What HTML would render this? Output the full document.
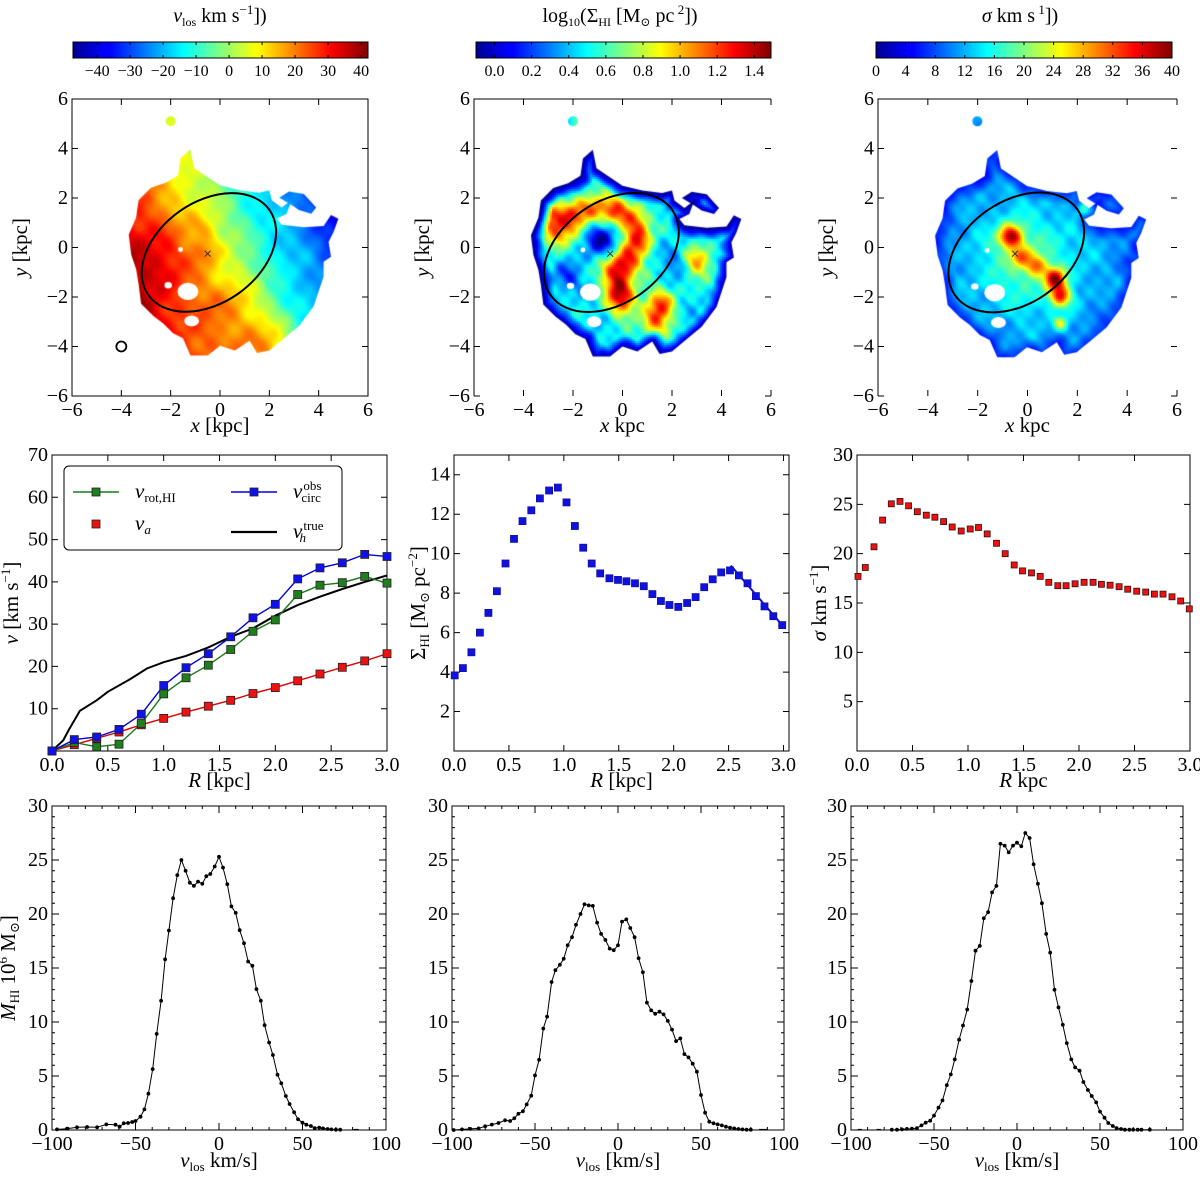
<!DOCTYPE html>
<html><head><meta charset="utf-8"><title>HI maps and profiles</title>
<style>
body{margin:0;background:#fff}
#root{position:relative;width:1200px;height:1177px;overflow:hidden;background:#fff}
canvas{position:absolute}
svg{position:absolute;left:0;top:0}
text{font-family:"Liberation Serif","DejaVu Serif",serif;fill:#000}
</style></head>
<body>
<div id="root">
<canvas id="map1" width="296" height="297" style="left:72px;top:99px"></canvas>
<canvas id="map2" width="297" height="297" style="left:474px;top:99px"></canvas>
<canvas id="map3" width="298" height="297" style="left:878px;top:99px"></canvas>
<svg id="svg" width="1200" height="1177">
<defs>
<linearGradient id="jet" x1="0" x2="1" y1="0" y2="0">
<stop offset="0" stop-color="#00008f"/><stop offset="0.11" stop-color="#0000ff"/><stop offset="0.125" stop-color="#0000ff"/>
<stop offset="0.375" stop-color="#00ffff"/><stop offset="0.5" stop-color="#80ff80"/><stop offset="0.625" stop-color="#ffff00"/>
<stop offset="0.875" stop-color="#ff0000"/><stop offset="1" stop-color="#800000"/>
</linearGradient>
</defs>
</svg>
</div>
<script>
// ---------- rotation curve data (row 2, left) ----------
const rotR = [0,0.2,0.4,0.6,0.8,1.0,1.2,1.4,1.6,1.8,2.0,2.2,2.4,2.6,2.8,3.0];
const vRotHI = [0,2,1,1.6,6.5,13.5,17.3,20.3,24,28.3,31,37,39.2,39.8,41.3,39.7];
const vCircObs = [0,2.7,3.3,5.1,8.7,15.5,19.7,23,27,31.5,34.7,40.7,43.3,44.5,46.5,46];
const vA = [0,1.5,3,4.5,6.2,7.7,9.2,10.6,12,13.6,15,16.6,18.2,19.8,21.3,23];
const trueR = [0,0.1,0.15,0.25,0.4,0.5,0.7,0.85,1.0,1.2,1.4,1.6,1.8,2.0,2.2,2.4,2.6,2.8,3.0];
const vTrue = [0,2.5,5,9.5,12,14,17,19.5,21,22.5,24.5,27,29,32,34.5,36.5,38.3,40,41.5];
// ---------- surface density profile (row 2, middle) ----------
const sigR = [0.006,0.081,0.158,0.236,0.313,0.391,0.469,0.546,0.624,0.704,0.782,0.866,0.946,1.024,1.101,1.176,1.254,1.331,1.415,1.493,1.570,1.648,1.728,1.806,1.884,1.961,2.042,2.122,2.200,2.278,2.355,2.433,2.513,2.594,2.672,2.749,2.827,2.907,2.988];
const sigHI = [3.83,4.2,5.0,6.0,7.0,8.1,9.5,10.75,11.65,12.2,12.8,13.2,13.35,12.6,11.4,10.3,9.5,9.0,8.75,8.67,8.6,8.5,8.35,7.95,7.6,7.4,7.3,7.5,7.8,8.3,8.7,9.05,9.15,8.9,8.5,7.85,7.33,6.83,6.38];
const fitR = [2.52,3.0];
const fitS = [9.4,6.3];
// ---------- velocity dispersion profile (row 2, right) ----------
const dispR = [0.009,0.075,0.153,0.231,0.309,0.387,0.465,0.543,0.624,0.702,0.780,0.858,0.939,1.020,1.095,1.173,1.257,1.335,1.416,1.491,1.572,1.650,1.728,1.809,1.884,1.965,2.046,2.127,2.202,2.280,2.361,2.439,2.520,2.601,2.679,2.757,2.838,2.916,2.994];
const dispS = [17.7,18.6,20.7,23.4,25.05,25.3,24.85,24.25,23.9,23.7,23.25,22.7,22.3,22.5,22.65,22.0,21.05,20.0,18.85,18.25,18.05,17.7,17.1,16.75,16.75,16.95,17.1,17.1,16.9,16.8,16.65,16.4,16.2,16.1,15.9,15.9,15.63,15.2,14.4];
// ---------- HI mass spectra (row 3) ----------
const specV1 = [-97,-91,-85,-79,-73,-67.5,-62,-59.5,-57,-54.5,-52,-50,-47,-44.7,-42.3,-39.7,-37.3,-34.7,-32.3,-30,-27.5,-25,-22.5,-20,-17.5,-15,-12.6,-10,-7.6,-5.2,-2.6,0,2.4,5,7.4,10,12.4,15,17.4,20,22.4,25,27.3,30,32.3,35,37.3,40,42.3,45,47.3,50,52.3,55,57.3,60,62.3,65,67.3,70,72.6];
const specM1 = [0.06,0.12,0.25,0.28,0.25,0.52,0.49,0.31,0.62,0.65,0.74,0.83,1.23,1.91,3.36,5.64,8.9,11.96,15.8,18.47,21.46,23.6,25.0,24.0,22.9,22.6,23.0,22.8,23.5,23.7,24.4,25.3,24.3,22.76,20.7,20.1,18.5,17.3,15.6,15.2,13.05,11.96,9.7,8.1,6.94,5.12,4.32,3.15,2.41,1.64,0.99,0.68,0.49,0.37,0.18,0.22,0.15,0.09,0.06,0.03,0.03];
const tailV1 = [80.6,83.6];
const tailM1 = [0.03,0.03];
const specV2 = [-99,-94,-89,-84,-80,-76,-72,-68,-65,-62.5,-60,-57.3,-55,-52.3,-50,-47.5,-45,-42.7,-40,-37.7,-35,-32.7,-30.3,-27.7,-25.3,-22.6,-20.2,-17.6,-15.2,-12.6,-10.2,-7.6,-5,-2.6,0,2.4,5,7.4,10,12.4,15,17.4,20,22.4,25,27.5,30,32.5,35,37.5,40,42.5,45,47.5,50,52.5,55,57.5,60,62.5,65,67.5,70,72.5,75,77.5,80];
const specM2 = [0,0.06,0.1,0.15,0.34,0.5,0.65,0.9,0.83,1.08,1.5,1.73,2.37,3.18,5.06,6.5,9.4,10.5,13.7,14.8,15.3,15.85,17.1,17.85,19.0,20.0,20.9,20.8,20.75,19.2,18.16,17.6,16.8,16.65,17.1,19.3,19.5,18.7,17.85,15.9,14.6,11.8,11.07,10.76,10.95,10.7,10.1,9.3,8.23,8.48,7.03,6.72,6.14,5.4,3.24,1.6,0.77,0.62,0.52,0.43,0.31,0.22,0.15,0.09,0.06,0.03,0.03];
const tailV2 = [85,90];
const tailM2 = [0.03,0.03];
const specV3 = [-75.4,-72.3,-69.3,-66.3,-63.3,-60.3,-57.5,-55,-52.3,-50,-47.3,-44.9,-42.3,-39.9,-37.5,-34.9,-32.5,-30,-27.5,-25,-22.4,-20,-17.4,-15,-12.4,-10,-7.4,-5,-2.4,0,2.6,5,7.6,10,12.6,15,17.6,20,22.6,25,27.6,30,32.7,35,37.7,40,42.7,45,47.7,50,52.7,55,57.7,60,62.7,65,67.7,70,72.7,75,80];
const specM3 = [0.03,0.03,0.06,0.1,0.12,0.18,0.43,0.68,0.86,1.33,2.07,2.74,4.16,5.15,6.54,8.36,9.68,11.16,13.8,16.6,17.05,19.6,20.17,22.0,22.6,26.5,26.33,25.7,26.33,26.6,26.27,27.5,27.04,24.6,22.8,21.0,18.16,16.43,12.98,11.35,9.74,8.05,6.54,5.8,5.49,4.44,3.7,3.15,2.56,1.7,1.14,0.65,0.37,0.18,0.09,0.03,0.03,0.03,0.03,0.03,0.03];
const tailV3 = [-96,-93.5,-84.5,-82];
const tailM3 = [0.03,0.03,0.03,0.03];

const NS='http://www.w3.org/2000/svg';
const svg=document.getElementById('svg');
function mk(tag,attrs,parent){const e=document.createElementNS(NS,tag);for(const k in attrs)e.setAttribute(k,attrs[k]);(parent||svg).appendChild(e);return e;}
function txt(x,y,html,size,anchor,parent){const e=mk('text',{x:x,y:y,'font-size':size,'text-anchor':anchor||'middle'},parent);e.innerHTML=html;return e;}
function fmt(v,d){const s=v.toFixed(d);return s.replace('-','\u2212');}

function makeAxes(name,p){
  const g=mk('g',{});
  
  
  p.sx=v=>p.x0+(v-p.xmin)/(p.xmax-p.xmin)*(p.x1-p.x0);
  p.sy=v=>p.y1-(v-p.ymin)/(p.ymax-p.ymin)*(p.y1-p.y0);
  const frame=mk('path',{d:p.frame||`M${p.x0},${p.y0}H${p.x1}V${p.y1}H${p.x0}Z`,fill:'none',stroke:'#000','stroke-width':1},g);
  
  
  const L=p.tickLen||6;
  p.xticks.forEach((v,i)=>{
    const X=p.sx(v);
    const t=mk('path',{d:`M${X},${p.y1}v${-L}M${X},${p.y0}v${L}`,stroke:'#000','stroke-width':1},g);
    
    
    if(p.xlabels[i]!==''){
      const l=txt(X,p.y1+p.xlabOff,p.xlabels[i],p.tickFont,'middle',g);
      
      
    }
  });
  p.yticks.forEach((v,i)=>{
    const Y=p.sy(v);
    const t=mk('path',{d:`M${p.x0},${Y}h${L}M${p.x1},${Y}h${-L}`,stroke:'#000','stroke-width':1},g);
    
    
    if(p.ylabels[i]!==''){
      const l=txt(p.x0-4,Y+6,p.ylabels[i],p.tickFont,'end',g);
      
      
    }
  });
  if(p.minorY){p.minorY.forEach(v=>{const Y=p.sy(v);mk('path',{d:`M${p.x0},${Y}h3M${p.x1},${Y}h-3`,stroke:'#000','stroke-width':1},g);});}
  if(p.minorX){p.minorX.forEach(v=>{const X=p.sx(v);mk('path',{d:`M${X},${p.y1}v-3M${X},${p.y0}v3`,stroke:'#000','stroke-width':1},g);});}
  if(p.xtitle){const t=txt((p.x0+p.x1)/2,p.xtitleY,p.xtitle,21,'middle',g);
    
    }
  if(p.ytitle){const t=txt(0,0,p.ytitle,21,'middle',g);t.setAttribute('transform',`translate(${p.ytitleX},${(p.y0+p.y1)/2}) rotate(-90)`);
    
    }
  return p;
}
function line(p,xs,ys,color,w,name){
  const d=xs.map((x,i)=>(i?'L':'M')+p.sx(x).toFixed(1)+','+p.sy(ys[i]).toFixed(1)).join('');
  const e=mk('path',{d:d,fill:'none',stroke:color,'stroke-width':w});
  
  
  return e;
}
function squares(p,xs,ys,fill,edge,size,name){
  const g=mk('g',{});
  
  
  xs.forEach((x,i)=>{
    const r=mk('rect',{x:(p.sx(x)-size/2).toFixed(1),y:(p.sy(ys[i])-size/2).toFixed(1),width:size,height:size,fill:fill,stroke:edge,'stroke-width':0.8},g);
    
    
  });
}
function dots(p,xs,ys,name){
  const g=mk('g',{});
  
  
  xs.forEach((x,i)=>{
    const c=mk('circle',{cx:p.sx(x).toFixed(1),cy:p.sy(ys[i]).toFixed(1),r:1.9,fill:'#000'},g);
    
    
  });
}

// ---------- Maps ----------
function jet(t){t=Math.max(0,Math.min(1,t));
  const c=v=>Math.round(255*Math.max(0,Math.min(1,v)));
  return `rgb(${c(1.5-Math.abs(4*t-3))},${c(1.5-Math.abs(4*t-2))},${c(1.5-Math.abs(4*t-1))})`;}
const BODY=[[-3.3,1.9],[-2.8,2.4],[-2.2,2.6],[-1.7,2.9],[-1.6,3.6],[-1.2,3.95],[-1.05,3.2],[-0.6,2.9],[0,2.5],[0.8,2.3],[1.6,2.2],[2.0,2.3],[2.1,1.9],[2.5,1.6],[2.9,1.9],[2.7,1.35],[2.3,1.15],[2.5,0.9],[3.4,0.8],[4.2,0.85],[4.5,1.3],[4.8,1.15],[4.6,0.6],[4.4,0.2],[4.5,-0.4],[4.2,-0.6],[4.2,-1.2],[3.8,-2.4],[3.2,-3.2],[2.6,-3.7],[2.0,-4.2],[1.5,-4.3],[1.2,-3.8],[0.6,-4.2],[0,-4.0],[-0.5,-4.4],[-1.2,-4.4],[-1.5,-3.7],[-1.9,-3.5],[-2.3,-3.1],[-2.7,-2.8],[-3.2,-2.3],[-3.3,-1.5],[-3.4,-0.9],[-3.6,-0.3],[-3.7,0.5],[-3.4,1.2]];
const LOBE=[[2.4,2.0],[2.8,2.25],[3.4,2.15],[3.9,1.6],[3.7,1.35],[3.2,1.5],[2.9,1.7]];
function segDist(x,y,a,b){const dx=b[0]-a[0],dy=b[1]-a[1];let t=((x-a[0])*dx+(y-a[1])*dy)/(dx*dx+dy*dy);t=Math.max(0,Math.min(1,t));const ex=a[0]+t*dx-x,ey=a[1]+t*dy-y;return Math.sqrt(ex*ex+ey*ey);}
function edgeDist(x,y){let m=9;[BODY,LOBE].forEach(P=>{for(let i=0;i<P.length;i++){const d=segDist(x,y,P[i],P[(i+1)%P.length]);if(d<m)m=d;}});return m;}
function noise(x,y){return (Math.sin(2.3*x+1.1*y)+Math.sin(1.7*x-2.9*y+1)+Math.sin(3.7*x+3.1*y+2)+Math.sin(5.3*x-4.1*y+0.5)+Math.sin(6.1*x+5.7*y+1.3))/5;}
function gs(x,y,cx,cy,s){const dx=x-cx,dy=y-cy;return Math.exp(-(dx*dx+dy*dy)/(2*s*s));}
function drawMap(id,field,vmin,vmax){
  const c=document.getElementById(id),ctx=c.getContext('2d');const W=c.width,H=c.height,s=W/12;
  const P=(x,y)=>[(x+6)*s,(6-y)*s];
  ctx.save();ctx.beginPath();
  [BODY,LOBE].forEach(poly=>{poly.forEach((q,i)=>{const r=P(q[0],q[1]);i?ctx.lineTo(r[0],r[1]):ctx.moveTo(r[0],r[1]);});ctx.closePath();});
  let r=P(-2.0,5.1);ctx.moveTo(r[0]+5,r[1]);ctx.arc(r[0],r[1],5,0,7);
  r=P(-5.0,0.0);ctx.moveTo(r[0]+1.5,r[1]);ctx.arc(r[0],r[1],1.5,0,7);
  ctx.clip();
  for(let py=0;py<H;py+=2)for(let px=0;px<W;px+=2){const x=px/s-6,y=6-py/s;if(x<-3.8||x>5||y<-4.6||y>5.4)continue;
    const d=edgeDist(x,y);const v=field(x,y,d);ctx.fillStyle=jet((v-vmin)/(vmax-vmin));ctx.fillRect(px,py,2,2);}
  ctx.restore();
  ctx.globalCompositeOperation='destination-out';
  [[-1.3,-1.8,0.42,0.35],[-2.1,-1.55,0.15,0.13],[-1.15,-3.0,0.3,0.22],[-1.6,-0.1,0.1,0.1]].forEach(h=>{const q=P(h[0],h[1]);ctx.beginPath();ctx.ellipse(q[0],q[1],h[2]*s,h[3]*s,0,0,7);ctx.fill();});
  ctx.globalCompositeOperation='source-over';
}
drawMap('map1',(x,y,d)=>4-8*x-3*y+6*noise(x,y)+16*gs(x,y,1.6,-4,0.9)+8*gs(x,y,-2.4,-0.5,1.0)+10*gs(x,y,-0.6,-0.2,0.4)+10*gs(x,y,0.3,-2.2,0.8)+8*gs(x,y,-0.8,0.8,0.4),-47.3,42.1);
drawMap('map2',(x,y,d)=>{let v=0.55+0.2*noise(1.4*x,1.4*y);
  [[-2,1.3],[-1.2,1.6],[-0.3,1.6],[0.5,1.1],[0.6,0.3],[0.2,-0.5],[-0.3,-0.9],[-0.2,-1.6],[0,-2.2],[1.5,-2.2],[1.3,-3],[3,-0.5],[-2.6,0.6],[-3,1.3]].forEach(q=>{v+=0.6*gs(x,y,q[0],q[1],0.42);});
  v-=0.5*gs(x,y,-1.0,0.4,0.45)+0.3*gs(x,y,-2.3,-1.2,0.4)+0.25*gs(x,y,2.2,-0.5,0.4);
  return v*Math.min(1,d/0.5)-0.08;},-0.1,1.49);
drawMap('map3',(x,y,d)=>{let v=10+3*noise(1.3*x,1.3*y)+8*gs(x,y,0,-0.5,1.7)+24*gs(x,y,-0.7,0.5,0.33)+14*gs(x,y,-0.3,-0.3,0.28)+14*gs(x,y,0.3,-0.7,0.3)+22*gs(x,y,1.1,-1.2,0.3)+20*gs(x,y,1.3,-1.9,0.3)+12*gs(x,y,1.3,-3,0.2)+14*gs(x,y,2.3,1.7,0.18);
  return v*Math.min(1,0.6+d/1.2);},0,40);

const mapTicks=[-6,-4,-2,0,2,4,6];
const mapLabels=mapTicks.map(v=>fmt(v,0));
const mapDefs=[['velocity-map-axes',72,368,'full'],['density-map-axes',474,771,'open'],['dispersion-map-axes',878,1177,'open']];
const maps=mapDefs.map((m,k)=>{
  const p={x0:m[1],x1:m[2],y0:99,y1:396,xmin:-6,xmax:6,ymin:-6,ymax:6,xticks:mapTicks,yticks:mapTicks,xlabels:mapLabels,ylabels:mapLabels,tickFont:20,xlabOff:20,
    xtitle:k==0?'<tspan font-style="italic">x</tspan> [kpc]':'<tspan font-style="italic">x</tspan>  kpc',xtitleY:432,ytitle:'<tspan font-style="italic">y</tspan> [kpc]',ytitleX:m[1]-45};
  if(m[3]==='open')p.frame=`M${m[2]},${99}H${m[1]}V396`;
  return makeAxes(m[0],p);
});
maps.forEach((p,k)=>{
  const cx=p.sx(-0.45),cy=p.sy(-0.2),s=(p.x1-p.x0)/12;
  const e=mk('ellipse',{cx:cx,cy:cy,rx:3.0*s,ry:2.05*s,transform:`rotate(-35 ${cx} ${cy})`,fill:'none',stroke:'#000','stroke-width':2});
  
  
  const x=mk('path',{d:`M${p.sx(-0.5)-3},${p.sy(-0.25)-3}l6,6m0,-6l-6,6`,stroke:'#333','stroke-width':1});
  
  
});
const beam=mk('circle',{cx:maps[0].sx(-4),cy:maps[0].sy(-4),r:5,fill:'none',stroke:'#000','stroke-width':1.8});



// colorbars
const cbDefs=[
 {name:'velocity-colorbar',x0:73,x1:368,min:-47.3,max:42.1,ticks:[-40,-30,-20,-10,0,10,20,30,40],dec:0,cx:220,title:'<tspan font-style="italic">v</tspan><tspan font-size="12" dy="4">los</tspan><tspan dy="-4"> km s</tspan><tspan font-size="13" dy="-8">−1</tspan><tspan dy="8">])</tspan>'},
 {name:'density-colorbar',x0:476,x1:771,min:-0.1,max:1.49,ticks:[0,0.2,0.4,0.6,0.8,1.0,1.2,1.4],dec:1,cx:620,title:'log<tspan font-size="12" dy="4">10</tspan><tspan dy="-4">(Σ</tspan><tspan font-size="12" dy="4">HI</tspan><tspan dy="-4"> [M</tspan><tspan font-size="12" dy="4">⊙</tspan><tspan dy="-4"> pc</tspan><tspan font-size="13" dy="-8">  2</tspan><tspan dy="8">])</tspan>'},
 {name:'dispersion-colorbar',x0:876,x1:1172,min:0,max:40,ticks:[0,4,8,12,16,20,24,28,32,36,40],dec:0,cx:1020,title:'<tspan font-style="italic">σ</tspan>  km s<tspan font-size="13" dy="-8">  1</tspan><tspan dy="8">])</tspan>'}];
cbDefs.forEach(c=>{
  const g=mk('g',{});
  
  
  mk('rect',{x:c.x0,y:42,width:c.x1-c.x0,height:16,fill:'url(#jet)',stroke:'#000','stroke-width':1},g);
  c.ticks.forEach(v=>{const X=c.x0+(v-c.min)/(c.max-c.min)*(c.x1-c.x0);
    mk('path',{d:`M${X},58v-3M${X},42v3`,stroke:'#000','stroke-width':1},g);
    const l=txt(X,76,fmt(v,c.dec),16,'middle',g);
    
    });
  const t=txt(c.cx,22,c.title,20,'middle',g);
  
  
});

// ---------- Row 2 ----------
const rTicks=[0,0.5,1.0,1.5,2.0,2.5,3.0];
const rLabels=rTicks.map(v=>v.toFixed(1));
const vTicks=[10,20,30,40,50,60,70];
const p21=makeAxes('rotation-curve-axes',{x0:52,x1:387,y0:455,y1:751,xmin:0,xmax:3,ymin:0,ymax:70,xticks:rTicks,yticks:vTicks,xlabels:rLabels,ylabels:vTicks.map(String),tickFont:20,xlabOff:20,
  xtitle:'<tspan font-style="italic">R</tspan> [kpc]',xtitleY:787,ytitle:'<tspan font-style="italic">v</tspan> [km s<tspan font-size="13" dy="-8">−1</tspan><tspan dy="8">]</tspan>',ytitleX:18});
line(p21,trueR,vTrue,'#000',2,'v-true-line');
line(p21,rotR,vA,'#e00000',1.4,'v-a-line');
line(p21,rotR,vRotHI,'#1a7a1a',1.4,'v-rot-line');
line(p21,rotR,vCircObs,'#0000dd',1.4,'v-circ-line');
squares(p21,rotR,vA,'#ee1111','#222',8,'v-a-markers');
squares(p21,rotR,vRotHI,'#1f7f1f','#222',8,'v-rot-markers');
squares(p21,rotR,vCircObs,'#1111ee','#222',8,'v-circ-markers');
// legend
const lg=mk('g',{});


mk('rect',{x:64,y:466,width:278,height:84,rx:5,fill:'#fff',stroke:'#000','stroke-width':1},lg);
const legItems=[[73,492,'#1a7a1a','#1f7f1f',true,'<tspan font-style="italic">v</tspan><tspan font-size="13" dy="4">rot,HI</tspan>','legend-entry-v-rot'],
 [231,492,'#0000dd','#1111ee',true,'<tspan font-style="italic">v</tspan><tspan font-size="13" dx="1" dy="-8">obs</tspan><tspan font-size="13" dx="-20" dy="12">circ</tspan>','legend-entry-v-circ'],
 [73,524,null,'#ee1111',false,'<tspan font-style="italic">v</tspan><tspan font-size="13" font-style="italic" dy="4">a</tspan>','legend-entry-v-a'],
 [231,532,'#000',null,true,'<tspan font-style="italic">v</tspan><tspan font-size="13" dx="1" dy="-8">true</tspan><tspan font-size="13" font-style="italic" dx="-24" dy="12">h</tspan>','legend-entry-v-true']];
legItems.forEach(it=>{
  const g=mk('g',{},lg);
  
  
  if(it[2])mk('path',{d:`M${it[0]},${it[1]}h46`,stroke:it[2],'stroke-width':it[3]?1.4:2.2},g);
  if(it[3])mk('rect',{x:it[0]+19,y:it[1]-4,width:8,height:8,fill:it[3],stroke:'#222','stroke-width':0.8},g);
  txt(it[0]+62,it[1]+6,it[5],21,'start',g);
});

const p22=makeAxes('surface-density-axes',{x0:454,x1:789,y0:455,y1:751,xmin:0,xmax:3.05,ymin:0,ymax:15,xticks:rTicks,yticks:[2,4,6,8,10,12,14],xlabels:rLabels,ylabels:['2','4','6','8','10','12','14'],tickFont:20,xlabOff:20,
  xtitle:'<tspan font-style="italic">R</tspan> [kpc]',xtitleY:787,ytitle:'Σ<tspan font-size="13" dy="4">HI</tspan><tspan dy="-4"> [M</tspan><tspan font-size="13" dy="4">⊙</tspan><tspan dy="-4"> pc</tspan><tspan font-size="13" dy="-8">−2</tspan><tspan dy="8">]</tspan>',ytitleX:425});
line(p22,fitR,fitS,'#1111cc',2,'density-fit-line');
squares(p22,sigR,sigHI,'#1111dd','#1111aa',7,'surface-density-markers');

const p23=makeAxes('dispersion-profile-axes',{x0:857,x1:1190,y0:455,y1:751,xmin:0,xmax:3,ymin:0,ymax:30,xticks:rTicks,yticks:[5,10,15,20,25,30],xlabels:rLabels,ylabels:['5','10','15','20','25','30'],tickFont:20,xlabOff:20,
  xtitle:'<tspan font-style="italic">R</tspan>  kpc',xtitleY:787,ytitle:'<tspan font-style="italic">σ</tspan>  km s<tspan font-size="13" dy="-8">−1</tspan><tspan dy="8">]</tspan>',ytitleX:826,
  frame:'M857,455H1190V751H857Z'});
squares(p23,dispR,dispS,'#ee1111','#331111',6,'dispersion-markers');

// ---------- Row 3 ----------
const sTicks=[-100,-50,0,50,100];
const sLabels=sTicks.map(v=>fmt(v,0));
const mTicks=[0,5,10,15,20,25,30];
const mLabels=mTicks.map(String);
const minorS=[-90,-80,-70,-60,-40,-30,-20,-10,10,20,30,40,60,70,80,90];
const minorM=[1,2,3,4,6,7,8,9,11,12,13,14,16,17,18,19,21,22,23,24,26,27,28,29];
const specDefs=[['spectrum-left-axes',52,386,specV1,specM1,tailV1,tailM1,'<tspan font-style="italic">v</tspan><tspan font-size="13" dy="4">los</tspan><tspan dy="-4">  km/s]</tspan>'],
 ['spectrum-middle-axes',452,784,specV2,specM2,tailV2,tailM2,'<tspan font-style="italic">v</tspan><tspan font-size="13" dy="4">los</tspan><tspan dy="-4"> [km/s]</tspan>'],
 ['spectrum-right-axes',851,1183,specV3,specM3,tailV3,tailM3,'<tspan font-style="italic">v</tspan><tspan font-size="13" dy="4">los</tspan><tspan dy="-4"> [km/s]</tspan>']];
specDefs.forEach((s,k)=>{
  const p=makeAxes(s[0],{x0:s[1],x1:s[2],y0:806,y1:1130,xmin:-100,xmax:100,ymin:0,ymax:30,xticks:sTicks,yticks:mTicks,xlabels:sLabels,ylabels:mLabels,tickFont:20,xlabOff:20,tickLen:7,
    minorX:minorS,minorY:minorM,xtitle:s[7],xtitleY:1167,
    ytitle:k==0?'<tspan font-style="italic">M</tspan><tspan font-size="13" dy="4">HI</tspan><tspan dy="-4">  10</tspan><tspan font-size="13" dy="-8">6</tspan><tspan dy="8"> M</tspan><tspan font-size="13" dy="4">⊙</tspan><tspan dy="-4">]</tspan>':null,ytitleX:15});
  line(p,s[3],s[4],'#000',1,'spectrum-line');
  dots(p,s[3],s[4],'spectrum-points');
  for(let i=0;i<s[5].length;i+=2)line(p,[s[5][i],s[5][i+1]],[s[6][i],s[6][i+1]],'#000',1.6,'spectrum-tail');
});
</script>
</body></html>
